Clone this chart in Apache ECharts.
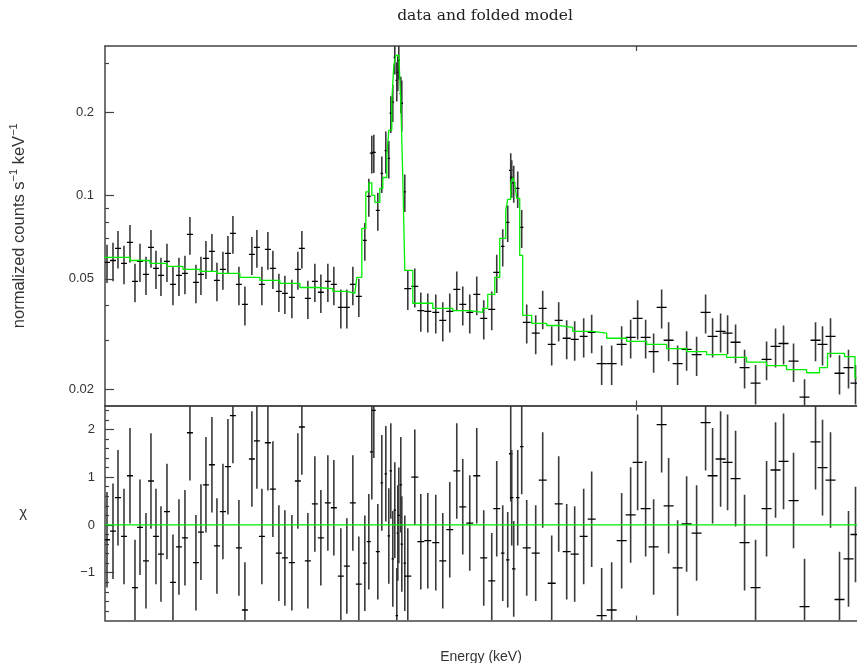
<!DOCTYPE html>
<html>
<head>
<meta charset="utf-8">
<script src="https://cdn.jsdelivr.net/npm/echarts@6/dist/echarts.min.js"></script>
<style>
html,body{margin:0;padding:0;background:#fff;}
#chart{width:857px;height:663px;}
</style>
</head>
<body>
<div id="chart"></div>
<script>
// ---- data (energy in keV, channel centres) ----
const energy = [5.008,5.032,5.052,5.076,5.100,5.120,5.140,5.164,5.184,5.204,
5.224,5.248,5.272,5.296,5.320,5.340,5.364,5.384,5.404,5.428,
5.448,5.472,5.492,5.512,5.536,5.560,5.588,5.608,5.628,5.652,
5.672,5.696,5.720,5.748,5.772,5.788,5.812,5.840,5.864,5.892,
5.916,5.944,5.968,5.992,6.016,6.040,6.056,6.068,6.076,6.092,
6.108,6.124,6.136,6.144,6.152,6.160,6.168,6.172,6.176,6.184,
6.188,6.200,6.212,6.240,6.264,6.292,6.324,6.352,6.380,6.408,
6.432,6.460,6.488,6.516,6.548,6.568,6.592,6.612,6.624,6.628,
6.636,6.652,6.668,6.688,6.724,6.752,6.788,6.816,6.848,6.880,
6.916,6.948,6.988,7.028,7.068,7.104,7.132,7.164,7.196,7.228,
7.256,7.292,7.328,7.368,7.404,7.432,7.464,7.492,7.524,7.560,
7.604,7.648,7.684,7.716,7.756,7.800,7.844,7.872,7.904,7.940,
7.976,8.004];
const halfWidth = [0.012,0.012,0.012,0.012,0.012,0.012,0.012,0.012,0.012,0.012,
0.012,0.012,0.012,0.012,0.012,0.012,0.012,0.012,0.012,0.012,
0.012,0.012,0.012,0.012,0.012,0.012,0.012,0.012,0.012,0.012,
0.012,0.012,0.012,0.012,0.012,0.012,0.012,0.012,0.012,0.012,
0.012,0.012,0.012,0.012,0.012,0.008,0.008,0.008,0.008,0.008,
0.005,0.005,0.005,0.005,0.005,0.005,0.005,0.005,0.005,0.005,
0.005,0.005,0.014,0.014,0.014,0.014,0.014,0.014,0.014,0.014,
0.014,0.014,0.014,0.014,0.014,0.014,0.007,0.007,0.007,0.007,
0.007,0.007,0.007,0.016,0.016,0.016,0.016,0.016,0.016,0.016,
0.016,0.016,0.020,0.020,0.020,0.020,0.020,0.020,0.020,0.020,
0.020,0.020,0.020,0.020,0.020,0.020,0.020,0.020,0.020,0.020,
0.020,0.020,0.020,0.020,0.020,0.020,0.020,0.020,0.020,0.020,
0.020,0.020];
// normalized counts s^-1 keV^-1
const rate = [0.0573,0.0582,0.0644,0.0568,0.0677,0.0489,0.0578,0.0519,0.0649,0.0545,
0.0514,0.0578,0.0477,0.0514,0.0523,0.0723,0.0485,0.0519,0.0592,0.0628,
0.0493,0.0541,0.0617,0.0729,0.0477,0.0404,0.0612,0.0649,0.0477,0.0638,
0.0545,0.0450,0.0443,0.0428,0.0541,0.0644,0.0425,0.0489,0.0447,0.0489,
0.0477,0.0394,0.0394,0.0477,0.0432,0.0688,0.0992,0.142,0.143,0.0883,
0.120,0.145,0.136,0.198,0.217,0.315,0.260,0.278,0.307,0.233,
0.215,0.103,0.0461,0.0469,0.0384,0.0381,0.0378,0.0354,0.0381,0.0458,
0.0404,0.0378,0.0439,0.0360,0.0388,0.0527,0.0654,0.0799,0.123,0.116,
0.111,0.106,0.0766,0.0348,0.0318,0.0391,0.0290,0.0354,0.0305,0.0302,
0.0310,0.0320,0.0247,0.0247,0.0290,0.0307,0.0360,0.0307,0.0273,0.0394,
0.0300,0.0247,0.0278,0.0266,0.0378,0.0310,0.0323,0.0318,0.0295,0.0239,
0.0210,0.0256,0.0285,0.0292,0.0252,0.0187,0.0300,0.0290,0.0310,0.0228,
0.0239,0.0210];
const rateErr = [0.0090,0.0092,0.0100,0.0090,0.0105,0.0078,0.0091,0.0082,0.0101,0.0086,
0.0081,0.0091,0.0076,0.0081,0.0083,0.0112,0.0077,0.0082,0.0093,0.0098,
0.0078,0.0085,0.0096,0.0113,0.0076,0.0065,0.0096,0.0101,0.0076,0.0099,
0.0086,0.0071,0.0070,0.0068,0.0085,0.0100,0.0067,0.0077,0.0071,0.0077,
0.0076,0.0063,0.0063,0.0076,0.0068,0.0107,0.0155,0.0220,0.0225,0.0138,
0.0180,0.0250,0.0210,0.0300,0.0330,0.0420,0.0420,0.0400,0.0450,0.0350,
0.0450,0.0160,0.0075,0.0075,0.0062,0.0061,0.0061,0.0057,0.0061,0.0073,
0.0065,0.0061,0.0070,0.0058,0.0062,0.0083,0.0100,0.0120,0.0190,0.0180,
0.0170,0.0160,0.0120,0.0056,0.0051,0.0062,0.0047,0.0057,0.0049,0.0049,
0.0050,0.0051,0.0040,0.0040,0.0047,0.0049,0.0058,0.0049,0.0044,0.0063,
0.0048,0.0040,0.0045,0.0043,0.0061,0.0050,0.0052,0.0051,0.0047,0.0038,
0.0034,0.0041,0.0046,0.0047,0.0040,0.0030,0.0048,0.0047,0.0050,0.0037,
0.0038,0.0034];
// residuals (data-model)/error
const chi = [-0.31,-0.13,0.57,-0.24,1.03,-1.31,-0.05,-0.75,0.92,-0.24,
-0.61,0.28,-1.20,-0.46,-0.27,1.93,-0.79,-0.15,0.84,1.26,
-0.44,0.28,1.22,2.29,-0.48,-1.78,1.38,1.76,-0.24,1.72,
0.75,-0.59,-0.69,-0.79,0.92,2.05,-0.75,0.44,-0.27,0.46,
0.36,-1.07,-0.86,0.46,-1.24,-0.80,-0.35,1.53,2.40,-0.56,
0.88,1.07,-0.23,1.13,-0.71,0.31,-1.90,-0.17,0.20,0.84,
-0.40,-0.80,-1.07,1.00,-0.35,-0.33,-0.37,-0.75,-0.10,1.13,
0.38,0.04,1.03,-0.69,-1.17,0.34,-0.59,-0.73,1.49,0.57,
-0.92,0.57,1.64,-0.48,-0.59,0.94,-1.22,0.44,-0.56,-0.61,
-0.24,0.12,-1.90,-1.78,-0.33,0.21,1.31,0.34,-0.46,2.10,
0.40,-0.90,0.02,-0.17,2.14,1.03,1.38,1.31,0.97,-0.37,
-1.31,0.34,1.15,1.33,0.51,-1.71,1.74,1.20,0.94,-1.56,
-0.71,-0.20];
const chiErr = 1;
// folded model (step start energy, value)
const modelE = [4.99,5.100,5.180,5.248,5.312,5.380,5.448,5.540,5.620,5.700,
5.780,5.848,5.912,5.968,6.000,
6.008,6.028,6.044,6.056,6.068,6.080,6.100,6.112,6.128,6.136,
6.148,6.156,6.164,6.176,6.184,6.192,6.200,6.232,6.312,6.392,
6.460,6.512,6.532,6.560,6.580,6.604,6.612,6.624,6.632,6.640,
6.648,6.660,6.672,6.708,6.768,6.820,6.872,6.952,7.008,7.088,
7.168,7.248,7.328,7.408,7.488,7.568,7.648,7.728,7.808,7.860,
7.892,7.960,8.002,8.02];
const modelV = [0.0597,0.0582,0.0568,0.0554,0.0541,0.0532,0.0523,0.0506,0.0493,0.0481,
0.0465,0.0461,0.0450,0.0443,0.0447,
0.0506,0.0760,0.103,0.111,0.100,0.0943,0.106,0.116,0.139,0.172,
0.220,0.295,0.320,0.315,0.217,0.116,0.0536,0.0408,0.0391,0.0384,
0.0378,0.0391,0.0439,0.0506,0.0700,0.0883,0.0967,0.110,0.116,0.110,
0.0975,0.0607,0.0369,0.0345,0.0339,0.0334,0.0323,0.0318,0.0305,0.0297,
0.0290,0.0280,0.0273,0.0266,0.0260,0.0250,0.0243,0.0235,0.0229,0.0239,
0.0269,0.0262,0.0219,0.0219];
const yTickLabels = [0.02, 0.05, 0.1, 0.2];
const yMinorTicks = [0.03, 0.04, 0.06, 0.07, 0.08, 0.09, 0.3];
const chiTickLabels = [-1, 0, 1, 2];
const chiMinorTicks = [-1.8,-1.6,-1.4,-1.2,-0.8,-0.6,-0.4,-0.2,0.2,0.4,0.6,0.8,1.2,1.4,1.6,1.8,2.2,2.4];
const xTicks = [7.128];

// ---- build ----
const topData = energy.map((e, i) => [e, rate[i], halfWidth[i], rate[i] - rateErr[i], rate[i] + rateErr[i]]);
const botData = energy.map((e, i) => [e, chi[i], halfWidth[i], chi[i] - chiErr, chi[i] + chiErr]);
const modelData = modelE.map((e, i) => [e, modelV[i]]);

function renderCross(params, api) {
  const cs = params.coordSys;
  const x = api.value(0), y = api.value(1), xh = api.value(2), lo = api.value(3), hi = api.value(4);
  const c = api.coord([x, y]);
  const l = api.coord([x - xh, y]);
  const r = api.coord([x + xh, y]);
  let t = api.coord([x, hi])[1];
  let b = api.coord([x, lo])[1];
  const top = cs.y, bot = cs.y + cs.height, left = cs.x, right = cs.x + cs.width;
  t = Math.max(top, Math.min(bot, t));
  b = Math.max(top, Math.min(bot, b));
  const children = [{
    type: 'line',
    shape: { x1: c[0], y1: t, x2: c[0], y2: b },
    style: { stroke: '#3a3a3a', lineWidth: 1.6 }
  }];
  if (c[1] >= top && c[1] <= bot) {
    children.push({
      type: 'line',
      shape: { x1: Math.max(left, l[0]), y1: c[1], x2: Math.min(right, r[0]), y2: c[1] },
      style: { stroke: '#000', lineWidth: 1.3 }
    });
  }
  return { type: 'group', children };
}

const axisLineStyle = { color: '#444', width: 1.5 };
const fontSans = 'Liberation Sans';

function xAx(grid, pos) {
  return {
    type: 'value', gridIndex: grid, position: pos, min: 5.0, max: 8.01,
    axisLine: { show: true, onZero: false, lineStyle: axisLineStyle },
    axisTick: { show: true, inside: true, length: 5, customValues: xTicks, lineStyle: { color: '#444', width: 1.2 } },
    axisLabel: { show: false }, splitLine: { show: false }
  };
}

const chart = echarts.init(document.getElementById('chart'), null, { renderer: 'canvas' });
chart.setOption({
  animation: false,
  backgroundColor: '#fff',
  grid: [
    { left: 105, top: 46, width: 752, height: 359.5, containLabel: false, outerBoundsMode: 'none' },
    { left: 105, top: 405.5, width: 752, height: 215, containLabel: false, outerBoundsMode: 'none' }
  ],
  xAxis: [xAx(0, 'bottom'), xAx(0, 'top'), xAx(1, 'bottom'), xAx(1, 'top')],
  yAxis: [
    {
      type: 'log', gridIndex: 0, position: 'left', min: 0.01744, max: 0.346, logBase: 10,
      axisLine: { show: true, lineStyle: axisLineStyle },
      axisTick: { show: true, inside: true, length: 9, customValues: yTickLabels, lineStyle: { color: '#444', width: 1.2 } },
      axisLabel: { show: true, customValues: yTickLabels, margin: 11, color: '#333', fontFamily: fontSans, fontSize: 13,
        formatter: v => String(+(+v).toPrecision(2)) },
      splitLine: { show: false },
      name: 'normalized counts s{sup|−1} keV{sup|−1}',
      nameLocation: 'middle', nameRotate: 90, nameGap: 75,
      nameTextStyle: { color: '#333', fontFamily: fontSans, fontSize: 16.5, lineHeight: 22, verticalAlign: 'bottom',
        rich: { sup: { fontFamily: fontSans, fontSize: 11, lineHeight: 22, verticalAlign: 'top', color: '#333' } } }
    },
    {
      type: 'log', gridIndex: 0, position: 'left', min: 0.01744, max: 0.346, logBase: 10,
      axisLine: { show: false },
      axisTick: { show: true, inside: true, length: 4, customValues: yMinorTicks, lineStyle: { color: '#444', width: 1.2 } },
      axisLabel: { show: false }, splitLine: { show: false }
    },
    {
      type: 'value', gridIndex: 1, position: 'left', min: -2, max: 2.5,
      axisLine: { show: true, onZero: false, lineStyle: axisLineStyle },
      axisTick: { show: true, inside: true, length: 9, customValues: chiTickLabels, lineStyle: { color: '#444', width: 1.2 } },
      axisLabel: { show: true, customValues: chiTickLabels, margin: 10, color: '#333', fontFamily: fontSans, fontSize: 13,
        formatter: v => (v < 0 ? '\u2212' + Math.abs(v) : String(v)) },
      splitLine: { show: false },
      name: 'χ', nameLocation: 'middle', nameRotate: 0, nameGap: 78,
      nameTextStyle: { color: '#333', fontFamily: fontSans, fontSize: 15 }
    },
    {
      type: 'value', gridIndex: 1, position: 'left', min: -2, max: 2.5,
      axisLine: { show: false },
      axisTick: { show: true, inside: true, length: 4, customValues: chiMinorTicks, lineStyle: { color: '#444', width: 1.2 } },
      axisLabel: { show: false }, splitLine: { show: false }
    }
  ],
  series: [
    { type: 'custom', xAxisIndex: 0, yAxisIndex: 0, renderItem: renderCross, data: topData, clip: true, z: 2 },
    { type: 'line', xAxisIndex: 0, yAxisIndex: 0, data: modelData, step: 'end', symbol: 'none',
      lineStyle: { color: '#00ee00', width: 1.3 }, clip: true, z: 3 },
    { type: 'custom', xAxisIndex: 2, yAxisIndex: 2, renderItem: renderCross, data: botData, clip: true, z: 2 },
    { type: 'line', xAxisIndex: 2, yAxisIndex: 2, data: [[5.0, 0], [8.01, 0]], symbol: 'none',
      lineStyle: { color: '#00ee00', width: 1.2 }, z: 3 }
  ],
  graphic: [
    { type: 'text', x: 485, y: 16, style: { text: 'data and folded model', fontFamily: 'DejaVu Serif', fontSize: 15.5, fill: '#222', align: 'center', verticalAlign: 'middle' } },
    { type: 'text', x: 481, y: 657, style: { text: 'Energy (keV)', fontFamily: fontSans, fontSize: 14, fill: '#333', align: 'center', verticalAlign: 'middle' } }
  ]
});
</script>
</body>
</html>
